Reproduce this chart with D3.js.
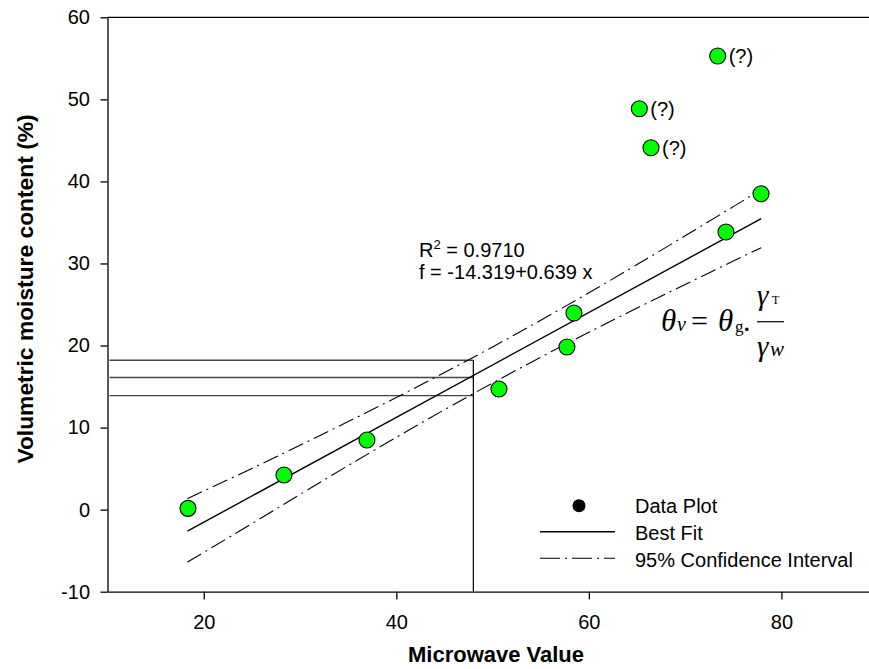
<!DOCTYPE html>
<html>
<head>
<meta charset="utf-8">
<script src="https://cdn.jsdelivr.net/npm/d3@7"></script>
<style>
  html, body { margin: 0; padding: 0; background: #fff; }
  svg { display: block; }
  text { font-family: "Liberation Sans", Arial, sans-serif; fill: #000; }
  .serif { font-family: "Liberation Serif", "Times New Roman", serif; }
</style>
</head>
<body>
<script>
// ---------- data ----------
const xData = [18.36, 28.33, 36.95, 50.66, 57.72, 58.45, 74.24, 77.88];
const yData = [0.16, 4.22, 8.49, 14.7, 19.82, 23.96, 33.83, 38.5];
const xOut = [73.38, 65.24, 66.45];
const yOut = [55.28, 48.86, 44.1];
const outLabels = ["(?)", "(?)", "(?)"];

const fitX = [18.3, 77.9];
const fitY = [-2.62, 35.46];

const ciX     = [18.3, 25, 30, 35, 40, 45, 50, 55, 60, 65, 70, 75, 77.9];
const ciUpper = [1.35, 5.02, 7.85, 10.73, 13.67, 16.70, 19.83, 23.08, 26.43, 29.87, 33.37, 36.93, 39.0];
const ciLower = [-6.4, -1.70, 1.85, 5.37, 8.81, 12.18, 15.43, 18.58, 21.61, 24.57, 27.45, 30.29, 31.92];

const refX = 48.0;
const refY = [18.2, 16.1, 13.9];

const xTicks = [20, 40, 60, 80];
const yTicks = [-10, 0, 10, 20, 30, 40, 50, 60];

const xTitle = "Microwave Value";
const yTitle = "Volumetric moisture content (%)";
const eqLines = ["R", " = 0.9710", "f = -14.319+0.639 x"];
const legendLabels = ["Data Plot", "Best Fit", "95% Confidence Interval"];

// ---------- layout ----------
const W = 869, H = 669;
const L = 107.5, R = 877.7, T = 17.3, B = 591.7;

const svg = d3.select("body").append("svg").attr("width", W).attr("height", H);

const x = d3.scaleLinear().domain([10, 90]).range([L, R]);
const y = d3.scaleLinear().domain([-10, 60]).range([B, T]);

// frame (top & right)
svg.append("line").attr("x1", L).attr("x2", R).attr("y1", T).attr("y2", T)
  .attr("stroke", "#000").attr("stroke-width", 1.3);
svg.append("line").attr("x1", R).attr("x2", R).attr("y1", T).attr("y2", B)
  .attr("stroke", "#000").attr("stroke-width", 1.3);

// axes
const plain = d => String(d);
const yAxis = d3.axisLeft(y).tickValues(yTicks).tickFormat(plain).tickSize(7).tickSizeOuter(0).tickPadding(10.5);
const gy = svg.append("g").attr("transform", `translate(${L},0)`).call(yAxis);
gy.selectAll("text").attr("font-size", 20).style("font-family", '"Liberation Sans", Arial, sans-serif');
gy.selectAll("line, path").attr("stroke", "#000").attr("stroke-width", 1.3);

const xAxis = d3.axisBottom(x).tickValues(xTicks).tickFormat(plain).tickSize(7.7).tickSizeOuter(0).tickPadding(15.6);
const gx = svg.append("g").attr("transform", `translate(0,${B})`).call(xAxis);
gx.selectAll("text").attr("font-size", 20).style("font-family", '"Liberation Sans", Arial, sans-serif');
gx.selectAll("line, path").attr("stroke", "#000").attr("stroke-width", 1.3);

// titles
svg.append("text").attr("x", 496).attr("y", 662).attr("text-anchor", "middle")
  .attr("font-size", 22).attr("font-weight", "bold").text(xTitle);
svg.append("text").attr("transform", `translate(33,289) rotate(-90)`).attr("text-anchor", "middle")
  .attr("font-size", 22.8).attr("font-weight", "bold").text(yTitle);

// reference lines
refY.forEach(v => {
  svg.append("line").attr("x1", L + 2).attr("x2", x(refX)).attr("y1", y(v)).attr("y2", y(v))
    .attr("stroke", "#444").attr("stroke-width", 1.4);
});
svg.append("line").attr("x1", x(refX)).attr("x2", x(refX)).attr("y1", y(refY[0])).attr("y2", B)
  .attr("stroke", "#000").attr("stroke-width", 1.2);

// confidence interval
const ciLine = d3.line().x(d => x(d[0])).y(d => y(d[1])).curve(d3.curveMonotoneX);
[ciUpper, ciLower].forEach(arr => {
  svg.append("path").datum(ciX.map((v, i) => [v, arr[i]]))
    .attr("d", ciLine).attr("fill", "none").attr("stroke", "#000")
    .attr("stroke-width", 1.1).attr("stroke-dasharray", "16,5,2,5");
});

// best fit
svg.append("path").datum(fitX.map((v, i) => [v, fitY[i]]))
  .attr("d", d3.line().x(d => x(d[0])).y(d => y(d[1])))
  .attr("fill", "none").attr("stroke", "#000").attr("stroke-width", 1.4);

// points
svg.append("g").selectAll("circle").data(xData.map((v, i) => [v, yData[i]])).join("circle")
  .attr("cx", d => x(d[0])).attr("cy", d => y(d[1])).attr("r", 8)
  .attr("fill", "#00ff00").attr("stroke", "#000").attr("stroke-width", 1.1);
const outG = svg.append("g");
outG.selectAll("circle").data(xOut.map((v, i) => [v, yOut[i]])).join("circle")
  .attr("cx", d => x(d[0])).attr("cy", d => y(d[1])).attr("r", 8)
  .attr("fill", "#00ff00").attr("stroke", "#000").attr("stroke-width", 1.1);
outG.selectAll("text").data(xOut.map((v, i) => [v, yOut[i], outLabels[i]])).join("text")
  .attr("x", d => x(d[0]) + 11).attr("y", d => y(d[1]) + 7)
  .attr("font-size", 20).text(d => d[2]);

// equation text
const eq1 = svg.append("text").attr("x", 419).attr("y", 257).attr("font-size", 20);
eq1.append("tspan").text(eqLines[0]);
eq1.append("tspan").attr("dy", -8).attr("font-size", 13).text("2");
eq1.append("tspan").attr("dy", 8).text(eqLines[1]);
svg.append("text").attr("x", 419).attr("y", 278.5).attr("font-size", 20).text(eqLines[2]);

// formula  θv = θg . γT / γw
const f = svg.append("g").attr("class", "serif");
function ftext(xp, yp, size, str, italic) {
  f.append("text").attr("class", "serif").attr("x", xp).attr("y", yp)
    .attr("font-size", size).attr("font-style", italic ? "italic" : "normal").text(str);
}
ftext(661, 331, 31, "θ", true);
ftext(677, 331, 20, "v", true);
ftext(691, 331, 30, "=", false);
ftext(718, 331, 31, "θ", true);
ftext(735, 332, 17, "g", false);
ftext(743, 331, 30, ".", false);
ftext(757, 305, 29, "γ", true);
ftext(772, 304, 12, "T", false);
f.append("line").attr("x1", 757).attr("x2", 784).attr("y1", 321.7).attr("y2", 321.7)
  .attr("stroke", "#000").attr("stroke-width", 1.2);
ftext(757, 356, 29, "γ", true);
ftext(770, 356, 21, "w", true);

// legend
const lg = svg.append("g");
lg.append("circle").attr("cx", 579).attr("cy", 505.7).attr("r", 6.5).attr("fill", "#000");
lg.append("line").attr("x1", 540).attr("x2", 615).attr("y1", 531.7).attr("y2", 531.7)
  .attr("stroke", "#000").attr("stroke-width", 1.4);
lg.append("line").attr("x1", 540).attr("x2", 615).attr("y1", 558.3).attr("y2", 558.3)
  .attr("stroke", "#000").attr("stroke-width", 1.1).attr("stroke-dasharray", "20,5,2,5");
lg.selectAll("text.lbl").data(legendLabels).join("text").attr("class", "lbl")
  .attr("x", 635).attr("y", (d, i) => 512.7 + i * 27.3).attr("font-size", 20).text(d => d);
</script>
</body>
</html>
